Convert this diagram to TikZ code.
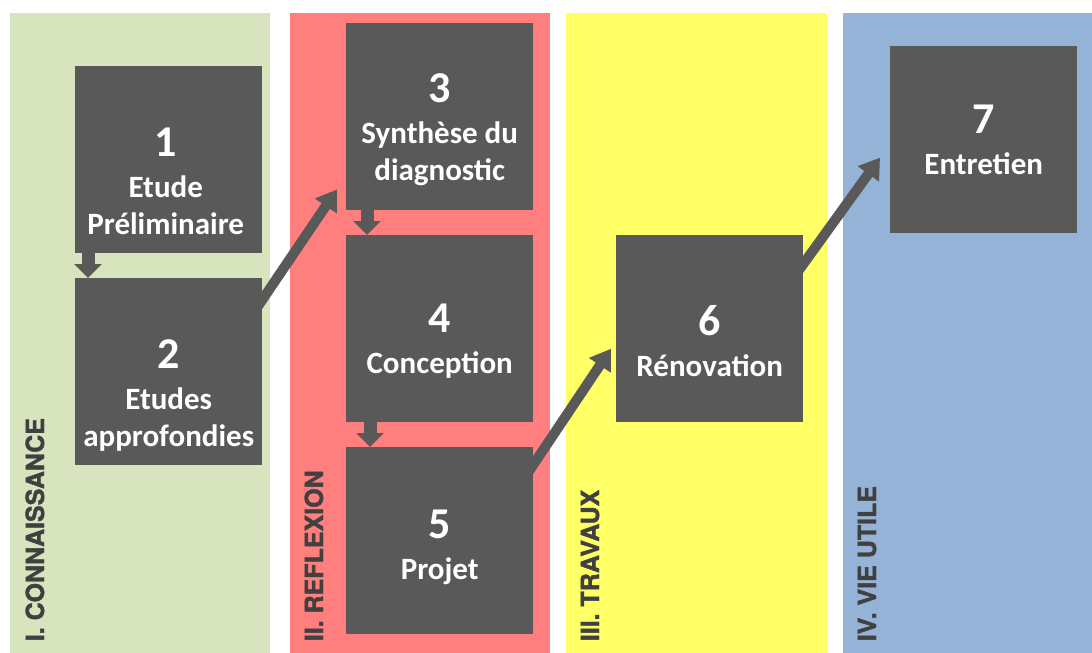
\documentclass[tikz,border=0pt]{standalone}
\usepackage{fontspec}
\setmainfont{Carlito}
\newfontfamily\phasefont{TeX Gyre Heros}[BoldFeatures={FakeBold=1.5}]
\usetikzlibrary{arrows.meta,positioning,calc}
\definecolor{boxgray}{HTML}{595959}
\definecolor{phasegreen}{HTML}{D7E4BD}
\definecolor{phasered}{HTML}{FF7F7F}
\definecolor{phaseyellow}{HTML}{FFFF66}
\definecolor{phaseblue}{HTML}{95B3D7}
\definecolor{phasetext}{HTML}{404040}
\tikzset{
  phase/.style={rectangle, minimum width=260pt, minimum height=640pt, inner sep=0pt, anchor=north west},
  phaselabel/.style={rotate=90, anchor=base west, inner sep=0pt, font={\phasefont\bfseries\fontsize{25}{28}\selectfont}, text=phasetext},
  stagebox/.style={rectangle, fill=boxgray, minimum width=187pt, minimum height=187pt, inner sep=0pt, anchor=north west},
  stagetext/.style={align=center, text=white, font=\bfseries\fontsize{31}{37}\selectfont, inner sep=0pt},
  uparrow/.style={-{Triangle[width=25pt,length=20pt]}, line width=10pt, boxgray},
  downarrow/.style={-{Triangle[width=27pt,length=14pt]}, line width=13pt, boxgray}
}
\newcommand{\stagenum}[1]{{\fontsize{44}{44}\selectfont #1}\\[4pt]}

\begin{document}
\begin{tikzpicture}[x=1pt,y=-1pt]
  \useasboundingbox (0,0) rectangle (1092,653);
  % phases
  \node[phase, fill=phasegreen] (connaissance) at (10,13) {};
  \node[phase, fill=phasered] (reflexion) at (290,13) {};
  \node[phase, fill=phaseyellow, minimum width=261pt] (travaux) at (566,13) {};
  \node[phase, fill=phaseblue, minimum width=249pt] (vieutile) at (843,13) {};

  \node[phaselabel] (lconn) at ([shift={(34,-12)}]connaissance.south west) {I. CONNAISSANCE};
  \node[phaselabel] (lrefl) at ([shift={(33,-12)}]reflexion.south west) {II. REFLEXION};
  \node[phaselabel] (ltrav) at ([shift={(33,-12)}]travaux.south west) {III. TRAVAUX};
  \node[phaselabel] (lvie) at ([shift={(33,-12)}]vieutile.south west) {IV. VIE UTILE};

  % stages
  \node[stagebox] (etude) at (75,66) {};
  \node[stagebox] (approf) at (75,278) {};
  \node[stagebox] (synth) at (346,23) {};
  \node[stagebox] (concept) at (346,235) {};
  \node[stagebox] (projet) at (346,447) {};
  \node[stagebox] (renov) at (616,235) {};
  \node[stagebox] (entret) at (890,46) {};

  \node[stagetext] (etudetxt) at ([shift={(-3,22)}]etude.center) {\stagenum{1}Etude\\Préliminaire};
  \node[stagetext] (approftxt) at ([shift={(0,24)}]approf.center) {\stagenum{2}Etudes\\approfondies};
  \node[stagetext] (synthtxt) at ([shift={(0,13)}]synth.center) {\stagenum{3}Synthèse du\\diagnostic};
  \node[stagetext] (concepttxt) at ([shift={(0,12)}]concept.center) {\stagenum{4}Conception};
  \node[stagetext] (projettxt) at ([shift={(0,7)}]projet.center) {\stagenum{5}Projet};
  \node[stagetext] (renovtxt) at ([shift={(0,12)}]renov.center) {\stagenum{6}Rénovation};
  \node[stagetext] (entrettxt) at (entret.center) {\stagenum{7}Entretien};

  \draw[downarrow] ([xshift=13pt]etude.south west) -- ([xshift=13pt]approf.north west);
  \draw[downarrow] ([xshift=21pt]synth.south west) -- ([xshift=21pt]concept.north west);
  \draw[downarrow] ([xshift=24pt]concept.south west) -- ([xshift=24pt]projet.north west);
  \draw[uparrow] ([shift={(-7,32)}]approf.north east) -- ([shift={(-9,-21)}]synth.south west);
  \draw[uparrow] ([shift={(-7,28)}]projet.north east) -- ([shift={(-5,20)}]renov.west);
  \draw[uparrow] ([shift={(-8,40)}]renov.north east) -- ([shift={(-10,18)}]entret.west);
\end{tikzpicture}
\end{document}
